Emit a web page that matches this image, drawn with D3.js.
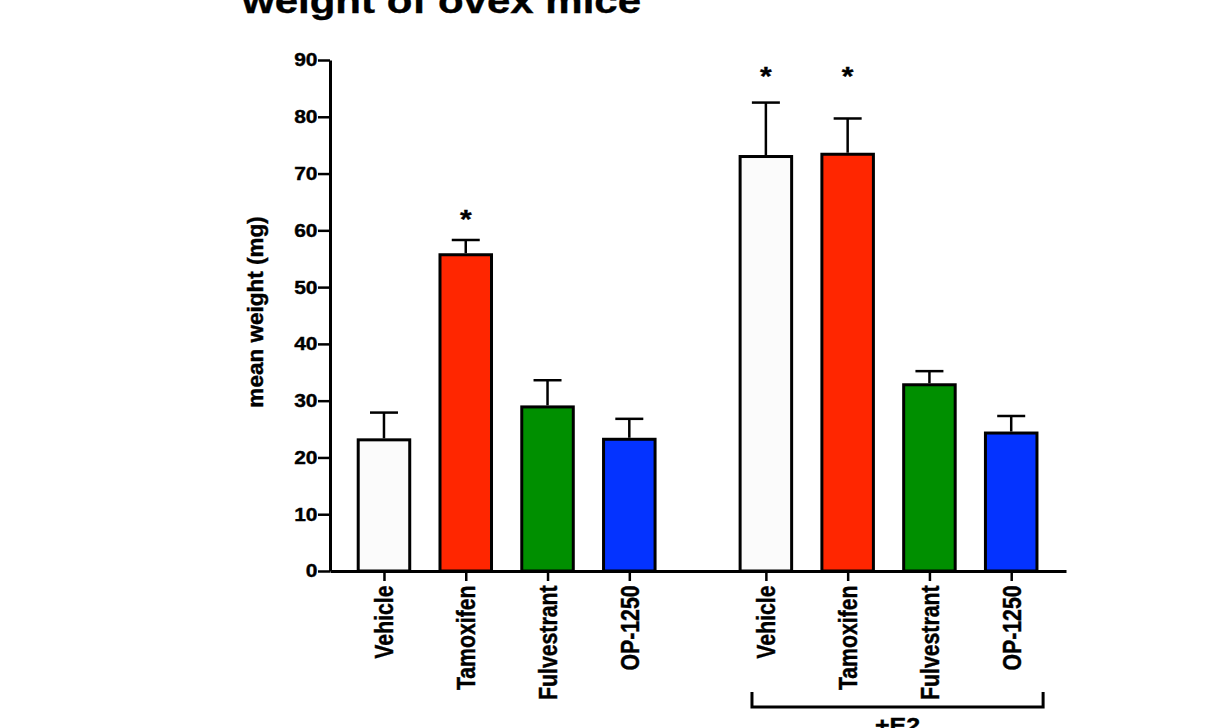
<!DOCTYPE html>
<html>
<head>
<meta charset="utf-8">
<script src="https://cdn.jsdelivr.net/npm/d3@7"></script>
<style>
  html, body { margin: 0; padding: 0; background: #fff; }
  svg { display: block; }
  text { font-family: "Liberation Sans", Arial, Helvetica, sans-serif; font-weight: bold; fill: #000;
         stroke: #000; stroke-width: 0.45px; }
</style>
</head>
<body>
<svg id="chart" width="1212" height="728"></svg>
<script>
// ---- data ----
const categories = ["Vehicle", "Tamoxifen", "Fulvestrant", "OP-1250"];
const groups = ["", "+E2"];
const means = [
  [23.1, 55.7, 28.9, 23.2],   // no E2
  [73.0, 73.4, 32.8, 24.3]    // +E2
];
const upperErr = [
  [27.9, 58.3, 33.6, 26.8],
  [82.5, 79.7, 35.2, 27.3]
];
const significant = [
  [false, true, false, false],
  [true, true, false, false]
];
const starLevel = [60.4, 85.6];   // value level of the "*" baseline per group
const fills = ["#fbfbfb", "#ff2600", "#008f00", "#0433ff"];
const yTicks = [0, 10, 20, 30, 40, 50, 60, 70, 80, 90];
const yLabel = "mean weight (mg)";
const title = "weight of ovex mice";
const groupGap = 1.67;   // empty slots between groups

// ---- build rows ----
const rows = [];
groups.forEach((g, gi) => {
  categories.forEach((c, ci) => {
    rows.push({
      cat: c, group: gi, ci,
      pos: ci + gi * (categories.length + groupGap - 1),
      mean: means[gi][ci], upper: upperErr[gi][ci],
      sig: significant[gi][ci], fill: fills[ci]
    });
  });
});

const svg = d3.select("#chart");
const SQ = 0.85; // vertical squish of the reference text

const x = d3.scaleLinear().domain([-0.66, 8.34]).range([330, 1066]);
const y = d3.scaleLinear().domain([0, 90]).range([571, 60]);
const step = x(1) - x(0);
const barW = step * 0.63;
const capHalf = 14;

// title (partly off-canvas in the reference)
svg.append("text")
  .attr("transform", `translate(242,13) scale(1,0.85)`)
  .attr("font-size", 42)
  .text(title);

// y axis label
svg.append("text")
  .attr("transform", `translate(263,312) rotate(-90)`)
  .attr("text-anchor", "middle")
  .attr("font-size", 22.5)
  .text(yLabel);

// bars
svg.append("g").selectAll("rect").data(rows).join("rect")
  .attr("x", d => x(d.pos) - barW / 2)
  .attr("y", d => y(d.mean))
  .attr("width", barW)
  .attr("height", d => y(0) - y(d.mean))
  .attr("fill", d => d.fill)
  .attr("stroke", "#000")
  .attr("stroke-width", 3);

// error bars
const eb = svg.append("g").attr("stroke", "#000").attr("stroke-width", 2.5);
eb.selectAll("line.v").data(rows).join("line").attr("class", "v")
  .attr("x1", d => x(d.pos)).attr("x2", d => x(d.pos))
  .attr("y1", d => y(d.mean) - 1.5).attr("y2", d => y(d.upper));
eb.selectAll("line.c").data(rows).join("line").attr("class", "c")
  .attr("x1", d => x(d.pos) - capHalf).attr("x2", d => x(d.pos) + capHalf)
  .attr("y1", d => y(d.upper)).attr("y2", d => y(d.upper));

// stars
svg.append("g").selectAll("text").data(rows.filter(d => d.sig)).join("text")
  .attr("transform", d => `translate(${x(d.pos)},${y(starLevel[d.group])}) scale(1,${SQ})`)
  .attr("text-anchor", "middle")
  .attr("font-size", 30)
  .text("*");

// y axis
const yAxis = svg.append("g").attr("transform", `translate(${x(-0.66)},0)`)
  .call(d3.axisLeft(y).tickValues(yTicks).tickSize(12).tickPadding(0.5).tickSizeOuter(0));
yAxis.attr("font-family", null).attr("font-size", null);
yAxis.select(".domain").attr("stroke", "#000").attr("stroke-width", 3);
yAxis.selectAll(".tick line").attr("stroke", "#000").attr("stroke-width", 2.5);
yAxis.selectAll(".tick text")
  .attr("font-size", 21)
  .attr("transform", `scale(1,0.88)`);

// x axis
const xAxis = svg.append("g").attr("transform", `translate(0,${y(0)})`)
  .call(d3.axisBottom(x)
    .tickValues(rows.map(d => d.pos))
    .tickFormat((d, i) => rows[i].cat)
    .tickSize(10).tickSizeOuter(0));
xAxis.attr("font-family", null).attr("font-size", null);
xAxis.select(".domain").attr("stroke", "#000").attr("stroke-width", 3);
xAxis.selectAll(".tick line").attr("stroke", "#000").attr("stroke-width", 2.5);
xAxis.selectAll(".tick text")
  .attr("font-size", 25)
  .attr("text-anchor", "end")
  .attr("x", -17)
  .attr("y", 0)
  .attr("dy", "0.36em")
  .attr("transform", `scale(1,${SQ}) rotate(-90)`);

// +E2 bracket
const bracket = [4.5, 8.06];
const by = 707, bTop = 692;
svg.append("path")
  .attr("d", `M${x(bracket[0])},${bTop}V${by}H${x(bracket[1])}V${bTop}`)
  .attr("fill", "none").attr("stroke", "#000").attr("stroke-width", 3);
svg.append("text")
  .attr("transform", `translate(${(x(bracket[0]) + x(bracket[1])) / 2},${by + 26}) scale(1,${SQ})`)
  .attr("text-anchor", "middle")
  .attr("font-size", 25)
  .text(groups[1]);
</script>
</body>
</html>
